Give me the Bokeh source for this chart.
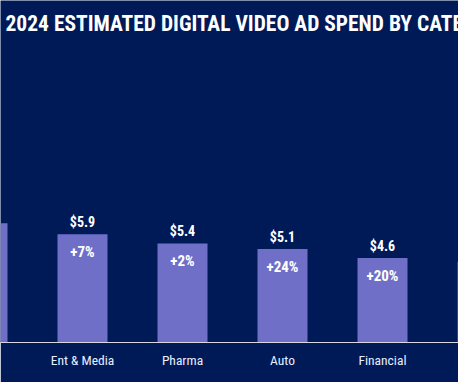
import re
from bokeh.plotting import figure
from bokeh.models import Range1d, LinearAxis, FixedTicker, ColumnDataSource, Label
from bokeh.embed import file_html
from bokeh.resources import INLINE
from bokeh.core.properties import value

# ---- data ----
categories = ["CPG", "Ent & Media", "Pharma", "Auto", "Financial", "Retail & CPG"]
spend = [6.5, 5.9, 5.4, 5.1, 4.6, 4.4]
growth = ["+12%", "+7%", "+2%", "+24%", "+20%", "+9%"]
title_text = "2024 ESTIMATED DIGITAL VIDEO AD SPEND BY CATEGORY (BILLIONS)"

# ---- style / layout ----
BG = "#001a57"
BAR = "#6f6fc8"
W, H = 458, 382
AXIS_SPACE = 40
PX_PER_CAT = 100
PX_PER_UNIT = 18.35
X0 = 0.18
FONT = "'Roboto Condensed', 'Liberation Sans Narrow', Roboto"

xs = list(range(len(categories)))
src = ColumnDataSource(dict(
    x=xs, top=spend, cat=categories,
    lbl=["$%.1f" % v for v in spend], pct=growth))

frame_h = H - AXIS_SPACE
p = figure(width=W, height=H, output_backend="svg", toolbar_location=None,
           x_range=Range1d(X0, X0 + W / PX_PER_CAT),
           y_range=Range1d(0, frame_h / PX_PER_UNIT),
           x_axis_location=None, y_axis_location=None,
           min_border=0, min_border_bottom=AXIS_SPACE,
           background_fill_color=BG, border_fill_color=BG,
           outline_line_color=None)
p.grid.grid_line_color = None

p.vbar(x="x", top="top", bottom=0, width=0.5, source=src,
       fill_color=BAR, line_color=None)

ax = LinearAxis(ticker=FixedTicker(ticks=xs),
                major_label_overrides={i: c for i, c in enumerate(categories)})
ax.axis_line_color = "#d8d8e0"
ax.axis_line_width = 1
ax.major_tick_line_color = None
ax.minor_tick_line_color = None
ax.major_label_text_color = "#e8eeff"
ax.major_label_text_font = FONT
ax.major_label_text_font_size = "13.5px"
ax.major_label_standoff = 3
p.add_layout(ax, "below")

p.text(x="x", y="top", text="lbl", source=src,
       text_font=value(FONT), text_font_style="bold", text_font_size="14px",
       text_color="white", text_align="center", text_baseline="alphabetic",
       y_offset=-12)
p.text(x="x", y="top", text="pct", source=src,
       text_font=value(FONT), text_font_style="bold", text_font_size="15px",
       text_color="white", text_align="center", text_baseline="alphabetic",
       y_offset=18)

title = Label(x=X0 + 5 / PX_PER_CAT, y=(frame_h - 22.5) / PX_PER_UNIT,
              text=title_text, text_font=FONT, text_font_style="bold",
              text_font_size="21.5px", text_color="white",
              text_baseline="alphabetic", text_align="left")
p.add_layout(title)

html = file_html(p, INLINE)
html = re.sub(r"<body[^>]*>", '<body style="margin:0;background:%s;overflow:hidden">' % BG, html, count=1)
open("out.html", "w").write(html)
